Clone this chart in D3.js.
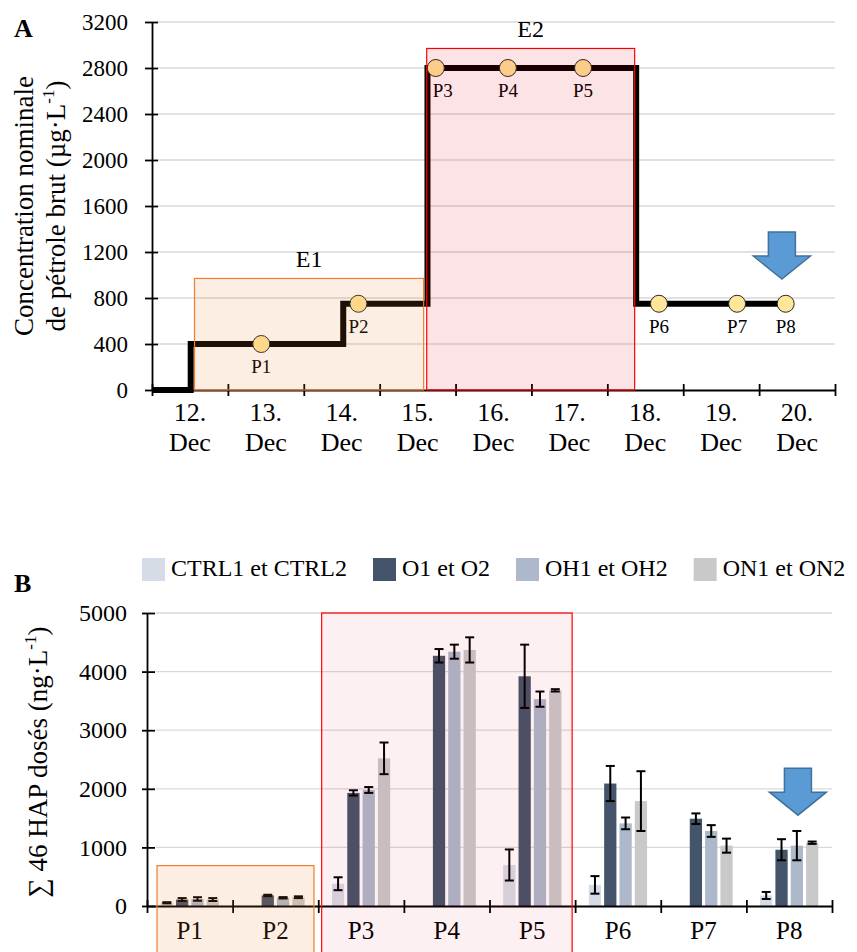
<!DOCTYPE html>
<html lang="fr">
<head>
<meta charset="UTF-8">
<title>Petrole brut - HAP</title>
<script src="https://cdn.jsdelivr.net/npm/d3@7"></script>
<style>
    body { margin:0; background:#fff; }
    svg text { font-family:"Liberation Serif","Times New Roman",serif; fill:#000; }
</style>
</head>
<body>
<svg width="857" height="952"></svg>
<script>
// ---------- panneau A : concentration nominale ----------
var dayTicks = [12, 13, 14, 15, 16, 17, 18, 19, 20, 21];
var dayLabels = ["12.", "13.", "14.", "15.", "16.", "17.", "18.", "19.", "20."];
var stepTimes = [12, 12.51, 14.52, 15.63, 18.38, 20.35];
var stepValues = [0, 400, 750, 2800, 750, 750];
var sampleNames = ["P1", "P2", "P3", "P4", "P5", "P6", "P7", "P8"];
var sampleTimes = [13.44, 14.72, 15.74, 16.69, 17.68, 18.68, 19.71, 20.35];
var sampleValues = [400, 750, 2800, 2800, 2800, 750, 750, 750];
var expoNames = ["E1", "E2"];
var expoStartA = [12.56, 15.62];
var expoEndA = [15.58, 18.36];
var expoTopA = [970, 2970];

// ---------- panneau B : somme des 46 HAP ----------
var seriesNames = ["CTRL1 et CTRL2", "O1 et O2", "OH1 et OH2", "ON1 et ON2"];
var seriesColors = ["#D6DCE5", "#44546A", "#ADB9CA", "#C9C9C9"];
var ctrlVals = [55, null, 380, null, 700, 360, null, 180];
var ctrlErr  = [10, null, 110, null, 265, 150, null, 60];
var oVals    = [110, 180, 1930, 4270, 3920, 2090, 1490, 960];
var oErr     = [25, 12, 45, 115, 540, 300, 90, 180];
var ohVals   = [120, 140, 1980, 4340, 3530, 1410, 1280, 1030];
var ohErr    = [30, 12, 50, 120, 130, 100, 100, 250];
var onVals   = [110, 150, 2520, 4370, 3680, 1790, 1030, 1080];
var onErr    = [25, 15, 270, 215, 20, 510, 120, 20];
var expoStartB = [0.117, 2.04];   // en unites de categorie
var expoEndB = [1.95, 4.965];
var expoTopB = [690, 5000];

var svg = d3.select("svg");
var W = 857, H = 952;

// fleche bleue (pointe en 0,0)
function arrowPath() {
    return "M0,0 L-28.5,-23 L-13.5,-23 L-13.5,-47 L13.5,-47 L13.5,-23 L28.5,-23 Z";
}

// =================== A ===================
var xA = d3.scaleLinear().domain([12, 21]).range([152, 835]);
var yA = d3.scaleLinear().domain([0, 3200]).range([390, 22]);
var gA = svg.append("g");

// grille
gA.append("g").selectAll("line")
    .data(d3.range(400, 3201, 400))
    .enter().append("line")
    .attr("x1", 158).attr("x2", xA(21))
    .attr("y1", d => yA(d)).attr("y2", d => yA(d))
    .style("stroke", "#D9D9D9").style("stroke-width", 1.3);

// axes
var axYA = gA.append("g").attr("transform", "translate(152,0)")
    .call(d3.axisLeft(yA).tickValues(d3.range(0, 3201, 400)).tickFormat(d3.format("d"))
        .tickSize(7).tickSizeOuter(0).tickPadding(17));
axYA.attr("font-family", null).attr("font-size", 23);
axYA.selectAll(".tick line").attr("x1", 6);
axYA.selectAll("line,path").style("stroke", "#000").style("stroke-width", 1.8);

var axXA = gA.append("g").attr("transform", "translate(0,390)")
    .call(d3.axisBottom(xA).tickValues(dayTicks).tickFormat("").tickSize(6).tickSizeOuter(0));
axXA.selectAll(".tick line").attr("y1", -6);
axXA.selectAll("line,path").style("stroke", "#000").style("stroke-width", 1.8);

// etiquettes de jours sur deux lignes
var dl = gA.append("g").selectAll("text")
    .data(dayLabels)
    .enter().append("text")
    .attr("text-anchor", "middle")
    .style("font-size", "26px")
    .attr("x", (d, i) => xA(dayTicks[i] + 0.5));
dl.append("tspan").attr("y", 421).text(d => d);
dl.append("tspan").attr("x", (d, i) => xA(dayTicks[i] + 0.5)).attr("y", 451).text("Dec");

// escalier
var stepData = stepTimes.map((t, i) => ({t: t, v: stepValues[i]}));
gA.append("path")
    .datum(stepData)
    .attr("d", d3.line().x(d => xA(d.t)).y(d => yA(d.v)).curve(d3.curveStepAfter))
    .style("fill", "none").style("stroke", "#000").style("stroke-width", 6);

// prelevements
gA.append("g").selectAll("circle")
    .data(sampleNames)
    .enter().append("circle")
    .attr("cx", (d, i) => xA(sampleTimes[i]))
    .attr("cy", (d, i) => yA(sampleValues[i]))
    .attr("r", 8.5)
    .style("fill", "#FFE699").style("stroke", "#262626").style("stroke-width", 1);

gA.append("g").selectAll("text")
    .data(sampleNames)
    .enter().append("text")
    .attr("text-anchor", "middle")
    .attr("x", (d, i) => xA(sampleTimes[i]) + (d == "P3" ? 7 : 0))
    .attr("y", (d, i) => yA(sampleValues[i]) + 29)
    .style("font-size", "19px")
    .text(d => d);

// periodes d'exposition (voile transparent par-dessus)
var expoFill = ["#ED7D31", "#E0001A"];
var expoStroke = ["#ED7D31", "#FF0000"];
var expoOpA = [0.13, 0.11];
gA.append("g").selectAll("rect")
    .data(expoNames)
    .enter().append("rect")
    .attr("x", (d, i) => xA(expoStartA[i]))
    .attr("y", (d, i) => yA(expoTopA[i]))
    .attr("width", (d, i) => xA(expoEndA[i]) - xA(expoStartA[i]))
    .attr("height", (d, i) => yA(0) - yA(expoTopA[i]))
    .style("fill", (d, i) => expoFill[i]).style("fill-opacity", (d, i) => expoOpA[i])
    .style("stroke", (d, i) => expoStroke[i]).style("stroke-width", 1.2);

gA.append("g").selectAll("text")
    .data(expoNames)
    .enter().append("text")
    .attr("text-anchor", "middle")
    .attr("x", (d, i) => (xA(expoStartA[i]) + xA(expoEndA[i])) / 2)
    .attr("y", (d, i) => yA(expoTopA[i]) - 11)
    .style("font-size", "24px")
    .text(d => d);

gA.append("path")
    .attr("d", arrowPath())
    .attr("transform", "translate(" + xA(20.3) + "," + yA(965) + ")")
    .style("fill", "#5B9BD5").style("stroke", "#41719C").style("stroke-width", 1.5);

// titre axe y
gA.append("text")
    .attr("transform", "translate(33,206) rotate(-90)")
    .attr("text-anchor", "middle")
    .style("font-size", "27px")
    .text("Concentration nominale");
var tA2 = gA.append("text")
    .attr("transform", "translate(65,206) rotate(-90)")
    .attr("text-anchor", "middle")
    .style("font-size", "27px");
tA2.append("tspan").text("de pétrole brut (µg·L");
tA2.append("tspan").attr("dy", -11).style("font-size", "17px").text("-1");
tA2.append("tspan").attr("dy", 11).text(")");

gA.append("text").attr("x", 14).attr("y", 37)
    .style("font-size", "26px").style("font-weight", "bold").text("A");

// =================== B ===================
var xB = d3.scaleBand().domain(sampleNames).range([147, 832]).paddingInner(0.32).paddingOuter(0.16);
var xSub = d3.scaleBand().domain(seriesNames).range([0, xB.bandwidth()]).paddingInner(0.2);
var idxB = d3.scaleLinear().domain([0, 8]).range([147, 832]);
var yB = d3.scaleLinear().domain([0, 5000]).range([906, 613]);
var gB = svg.append("g");

gB.append("g").selectAll("line")
    .data(d3.range(1000, 5001, 1000))
    .enter().append("line")
    .attr("x1", 156).attr("x2", 832)
    .attr("y1", d => yB(d)).attr("y2", d => yB(d))
    .style("stroke", "#D9D9D9").style("stroke-width", 1.3);

var allVals = [ctrlVals, oVals, ohVals, onVals];
var allErr = [ctrlErr, oErr, ohErr, onErr];
var rows = [];
sampleNames.forEach(function (p, i) {
    seriesNames.forEach(function (s, k) {
        if (allVals[k][i] != null)
            rows.push({p: p, s: s, k: k, v: allVals[k][i], e: allErr[k][i]});
    });
});

gB.append("g").selectAll("rect")
    .data(rows)
    .enter().append("rect")
    .attr("x", d => xB(d.p) + xSub(d.s))
    .attr("y", d => yB(d.v))
    .attr("width", xSub.bandwidth())
    .attr("height", d => yB(0) - yB(d.v))
    .style("fill", d => seriesColors[d.k]);

// barres d'erreur
var eb = gB.append("g").selectAll("g")
    .data(rows)
    .enter().append("g")
    .attr("transform", d => "translate(" + (xB(d.p) + xSub(d.s) + xSub.bandwidth() / 2) + ",0)");
eb.append("line").attr("y1", d => yB(d.v - d.e)).attr("y2", d => yB(d.v + d.e));
eb.append("line").attr("x1", -4.5).attr("x2", 4.5).attr("y1", d => yB(d.v + d.e)).attr("y2", d => yB(d.v + d.e));
eb.append("line").attr("x1", -4.5).attr("x2", 4.5).attr("y1", d => yB(d.v - d.e)).attr("y2", d => yB(d.v - d.e));
eb.selectAll("line").style("stroke", "#000").style("stroke-width", 2);

var axYB = gB.append("g").attr("transform", "translate(147,0)")
    .call(d3.axisLeft(yB).tickValues(d3.range(0, 5001, 1000)).tickFormat(d3.format("d"))
        .tickSize(5).tickSizeOuter(0).tickPadding(15));
axYB.attr("font-family", null).attr("font-size", 24);
axYB.selectAll(".tick line").attr("x1", 8);
axYB.selectAll("line,path").style("stroke", "#000").style("stroke-width", 1.8);

var axXB = gB.append("g").attr("transform", "translate(0,906)")
    .call(d3.axisBottom(idxB).tickValues(d3.range(0, 9)).tickFormat("").tickSize(7).tickSizeOuter(0));
axXB.selectAll(".tick line").attr("y1", -6);
axXB.selectAll("line,path").style("stroke", "#000").style("stroke-width", 1.8);

gB.append("g").selectAll("text")
    .data(sampleNames)
    .enter().append("text")
    .attr("text-anchor", "middle")
    .attr("x", d => xB(d) + xB.bandwidth() / 2)
    .attr("y", 939)
    .style("font-size", "25px")
    .text(d => d);

var expoOpB = [0.13, 0.06];
gB.append("g").selectAll("rect")
    .data(expoNames)
    .enter().append("rect")
    .attr("x", (d, i) => idxB(expoStartB[i]))
    .attr("y", (d, i) => yB(expoTopB[i]))
    .attr("width", (d, i) => idxB(expoEndB[i]) - idxB(expoStartB[i]))
    .attr("height", (d, i) => H + 10 - yB(expoTopB[i]))
    .style("fill", (d, i) => expoFill[i]).style("fill-opacity", (d, i) => expoOpB[i])
    .style("stroke", (d, i) => expoStroke[i]).style("stroke-width", 1.2);

gB.append("path")
    .attr("d", arrowPath())
    .attr("transform", "translate(" + (xB("P8") + xB.bandwidth() * 0.65) + "," + yB(1550) + ")")
    .style("fill", "#5B9BD5").style("stroke", "#41719C").style("stroke-width", 1.5);

// legende
var lx = 142;
seriesNames.forEach(function (s, k) {
    gB.append("rect").attr("x", lx).attr("y", 558).attr("width", 23).attr("height", 23)
        .style("fill", seriesColors[k]);
    var t = gB.append("text").attr("x", lx + 29).attr("y", 576)
        .style("font-size", "24px").text(s);
    lx = lx + 29 + t.node().getComputedTextLength() + 26;
});

var tB = gB.append("text")
    .attr("transform", "translate(47,762) rotate(-90)")
    .attr("text-anchor", "middle")
    .style("font-size", "27px");
tB.append("tspan").text("∑ 46 HAP dosés (ng·L");
tB.append("tspan").attr("dy", -11).style("font-size", "17px").text("-1");
tB.append("tspan").attr("dy", 11).text(")");

gB.append("text").attr("x", 14).attr("y", 592)
    .style("font-size", "26px").style("font-weight", "bold").text("B");
</script>
</body>
</html>
